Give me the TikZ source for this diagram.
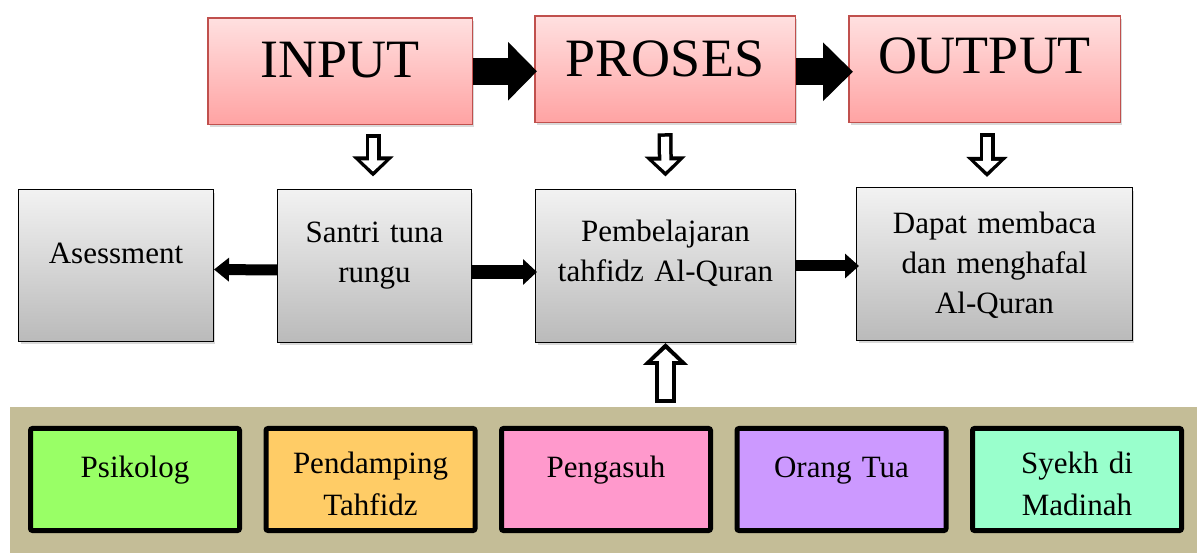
\documentclass[tikz,border=0pt]{standalone}
\usepackage{fontspec}
\setmainfont{Liberation Serif}[WordSpace=0.75]
\usetikzlibrary{arrows.meta,calc,shadows}

\definecolor{pinktop}{HTML}{FFE0E0}
\definecolor{pinkbot}{HTML}{FFA3A3}
\definecolor{pinkline}{HTML}{C0504D}
\definecolor{graytop}{HTML}{F2F2F2}
\definecolor{graybot}{HTML}{BABABA}
\definecolor{bandtan}{HTML}{C4BD97}
\definecolor{cpsikolog}{HTML}{99FF66}
\definecolor{cpendamping}{HTML}{FFCC66}
\definecolor{cpengasuh}{HTML}{FF99CC}
\definecolor{cortu}{HTML}{CC99FF}
\definecolor{csyekh}{HTML}{99FFCC}

\tikzset{
  headbox/.style={draw=pinkline, line width=1.5pt, top color=pinktop, bottom color=pinkbot,
    inner sep=0pt, anchor=base, align=center, font=\fontsize{54}{60}\selectfont,
    drop shadow={shadow xshift=2pt, shadow yshift=-3pt, opacity=0.3}},
  graybox/.style={draw=black, line width=1.2pt, top color=graytop, bottom color=graybot,
    inner sep=0pt, anchor=base, align=center, font=\fontsize{31}{40}\selectfont,
    drop shadow={shadow xshift=2pt, shadow yshift=-3pt, opacity=0.3}},
  rolebox/.style={draw=black, line width=5pt, rounded corners=2pt, inner sep=0pt,
    anchor=base, align=center, text width=209pt, font=\fontsize{31}{42}\selectfont},
  fatarrow/.style n args={3}{draw=black, line width=#1, -{Triangle[length=#2, width=#3]}},
  hollowdown/.style={draw=black, line width=15pt, -{Triangle[length=20pt, width=40pt]},
    postaction={draw=white, line width=8pt, shorten <=3.5pt, shorten >=5pt,
      -{Triangle[length=11pt, width=23pt]}}},
  hollowup/.style={draw=black, line width=21pt, -{Triangle[length=22pt, width=44pt]},
    postaction={draw=white, line width=13pt, shorten <=4pt, shorten >=6pt,
      -{Triangle[length=12pt, width=25pt]}}}
}

\begin{document}
\begin{tikzpicture}[x=1pt, y=-1pt]
    \useasboundingbox (0,0) rectangle (1203,553);

    % Band behind the helpers
    \node[fill=bandtan, minimum width=1187pt, minimum height=150pt, inner sep=0pt,
      anchor=north west] (band) at (10,407) {};

    % Top row
    \node[headbox, text width=264.5pt, text height=60pt, text depth=46.5pt] (input) at (340,78) {INPUT};
    \node[headbox, text width=260.5pt, text height=61pt, text depth=45.5pt] (proses) at (665,77) {PROSES};
    \node[headbox, text width=271.5pt, text height=58pt, text depth=48.5pt] (output) at (984.5,74) {OUTPUT};

    % Middle row
    \node[graybox, text width=194.8pt, text height=74.4pt, text depth=77.4pt] (ases) at (116,264) {Asessment};
    \node[graybox, text width=193.8pt, text height=53.4pt, text depth=99.4pt] (santri) at (374.5,243) {Santri tuna\\rungu};
    \node[graybox, text width=259.8pt, text height=52.4pt, text depth=100.4pt] (pemb) at (665.5,242) {Pembelajaran\\tahfidz Al-Quran};
    \node[graybox, text width=275.8pt, text height=46.4pt, text depth=106.4pt] (dapat) at (994.5,234) {Dapat membaca\\dan menghafal\\Al-Quran};

    % Helpers in the band
    \foreach \name/\txt/\h/\d [count=\i from 0] in {psikolog/{Psikolog}/48.5/53.5,
        pendamping/{Pendamping\\Tahfidz}/44.5/57.5, pengasuh/{Pengasuh}/48.5/53.5,
        ortu/{Orang Tua}/48.5/53.5, syekh/{Syekh di\\Madinah}/44.5/57.5}
      \node[rolebox, fill=c\name, text height=\h pt, text depth=\d pt] (\name) at ({135+235.5*\i},{428.5+\h}) {\txt};

    % Black arrows
    \draw[fatarrow={27pt}{29pt}{57pt}, shorten >=-3pt] (input.east) -- (input.east -| proses.west);
    \draw[fatarrow={27pt}{30pt}{57pt}, shorten >=-5pt, transform canvas={yshift=-2.5pt}] (proses.east) -- (proses.east -| output.west);
    \draw[fatarrow={11pt}{15pt}{23pt}] ([yshift=-4pt]santri.west) -- ([yshift=-4pt]ases.east);
    \draw[fatarrow={14pt}{14pt}{25pt}, shorten >=-2pt] ([yshift=-6pt]santri.east) -- ([yshift=-6pt]pemb.west);
    \draw[fatarrow={11pt}{14pt}{24pt}, shorten >=-3pt] (pemb.east) -- (pemb.east -| dapat.west);

    % Hollow arrows
    \draw[hollowdown] ($(input.south -| santri.north)+(-1.5,9)$) -- ($(santri.north)+(-1.5,-12.5)$);
    \draw[hollowdown] ($(proses.south)+(0,10)$) -- ($(pemb.north)+(0,-12.5)$);
    \draw[hollowdown] ($(output.south)+(2.5,10)$) -- ($(dapat.north -| output.south)+(2.5,-10)$);
    \draw[hollowup] ($(band.north -| pemb.south)+(0,-4)$) -- (pemb.south);
\end{tikzpicture}
\end{document}
